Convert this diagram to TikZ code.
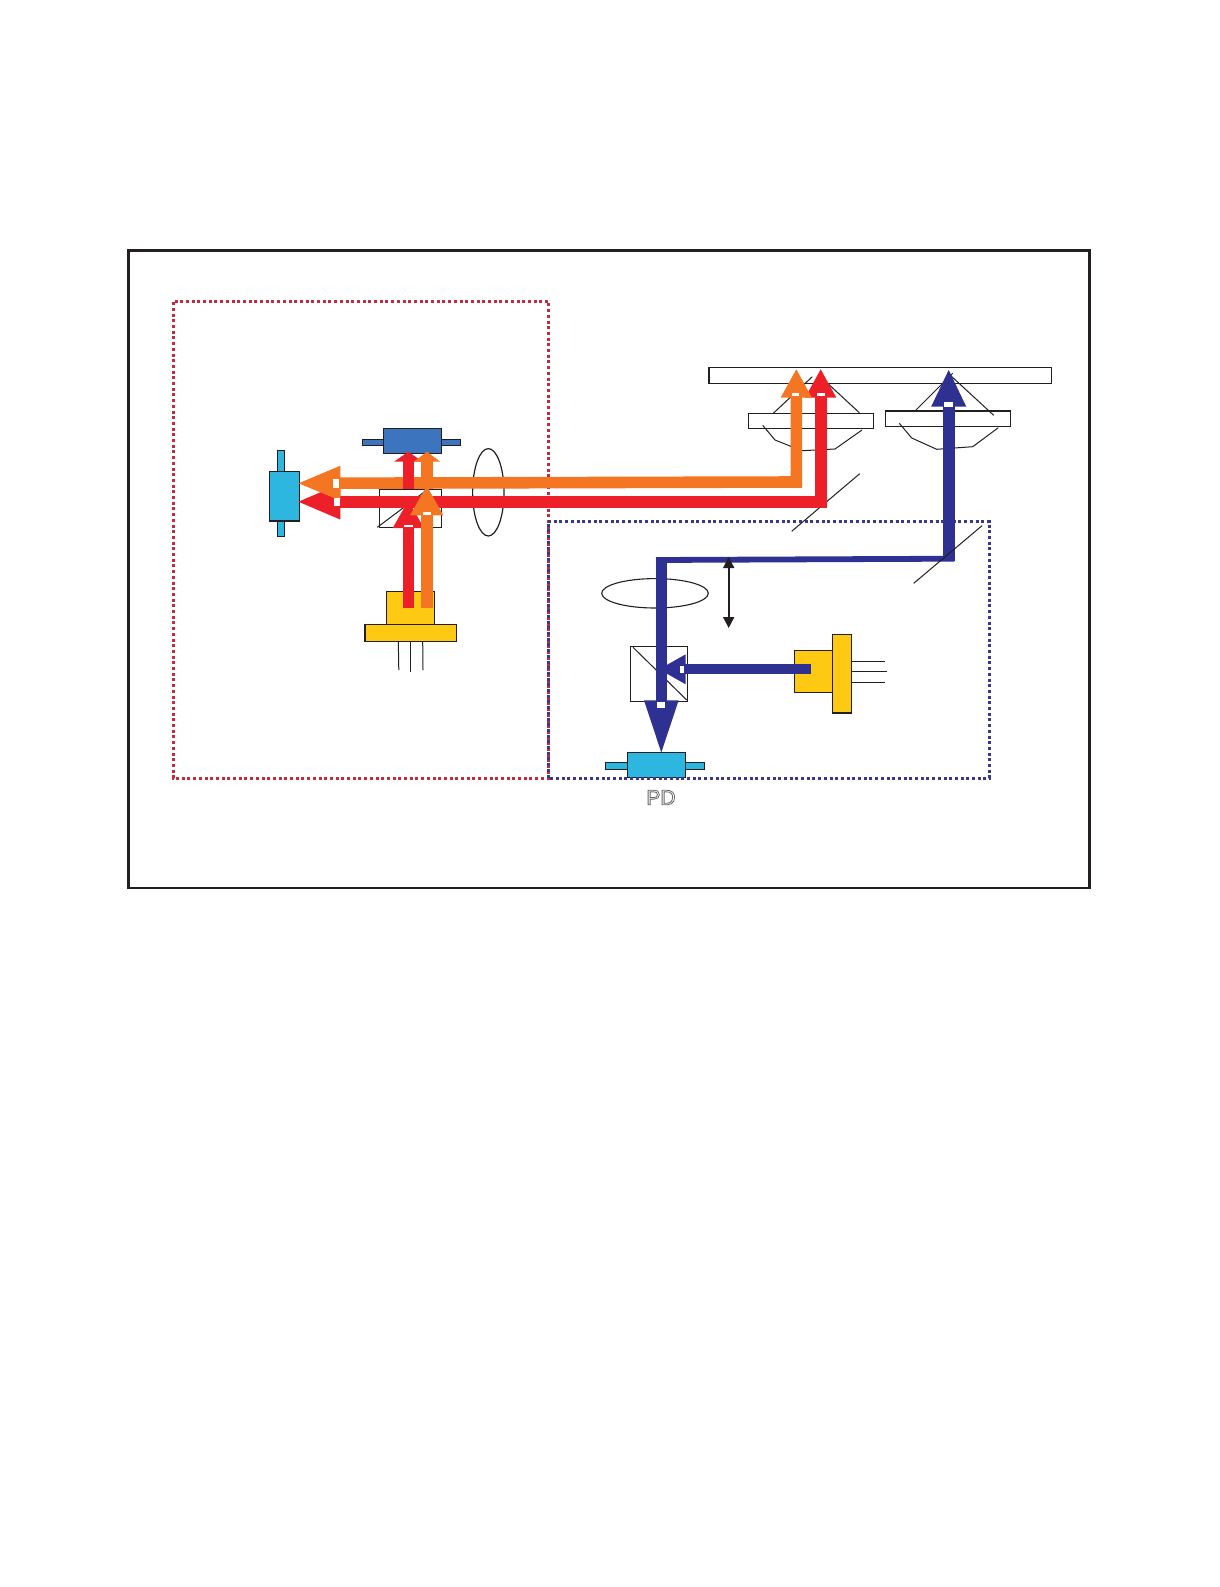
\documentclass[tikz,border=0pt]{standalone}
\usepackage{fontspec}
\setmainfont{Liberation Sans}
\usetikzlibrary{arrows.meta,shapes.geometric}
\definecolor{cred}{HTML}{ED2029}
\definecolor{cdotred}{HTML}{C8283E}
\definecolor{corange}{HTML}{F47623}
\definecolor{cblue}{HTML}{2E3192}
\definecolor{cdotblue}{HTML}{38388E}
\definecolor{cyel}{HTML}{FDC913}
\definecolor{ccyan}{HTML}{2DB6E0}
\definecolor{csteel}{HTML}{3C74BE}
\definecolor{cink}{HTML}{231F20}
\tikzset{
  part/.style={draw=cink,line width=1.2pt,inner sep=0pt,outer sep=0pt,anchor=north west},
  thin line/.style={draw=cink,line width=1pt},
  dotred/.style={draw=cdotred,line width=3pt,dash pattern=on 3pt off 2.7pt},
  dotblue/.style={draw=cdotblue,line width=3pt,dash pattern=on 3pt off 2.7pt},
  beam/.style={line width=11.6pt,line cap=butt,line join=miter},
  notch/.style={fill=white,draw=none,inner sep=0pt,outer sep=0pt,anchor=north west}
}
\newcommand{\partbox}[6]{%
  \pgfmathsetmacro{\myw}{#5-#3}\pgfmathsetmacro{\myh}{#6-#4}%
  \node[part,#2,minimum width=\myw pt,minimum height=\myh pt] (#1) at (#3,#4) {};}
\newcommand{\notchbox}[5]{%
  \pgfmathsetmacro{\myw}{#4-#2}\pgfmathsetmacro{\myh}{#5-#3}%
  \node[notch,minimum width=\myw pt,minimum height=\myh pt] (#1) at (#2,#3) {};}
\begin{document}
\begin{tikzpicture}[x=1pt,y=-1pt]
\useasboundingbox (0,0) rectangle (1219,1587);
\fill[white] (0,0) rectangle (1219,1587);
% frame
\draw[cink,line width=2.8pt] (128.5,250.5) rectangle (1089.5,888);
% red dotted group
\draw[dotred] (548,301) -- (173,301) -- (173,778) -- (548,778) -- cycle;
% target bar, lenses
\partbox{bar}{fill=white,line width=1.6pt}{708.7}{367.3}{1051.3}{383.3}
\partbox{plateL}{fill=white}{748.3}{413.3}{873.3}{428.3}
\partbox{plateR}{fill=white,line width=1.6pt}{885.3}{410.7}{1010.3}{426.3}
\draw[thin line] (762.7,425.3) -- (775,440) -- (801.7,450.7) -- (835,449) -- (862,430);
\draw[thin line] (899.3,423.3) -- (911.7,438) -- (936.7,449.3) -- (972.7,446.7) -- (998.3,427.7);
\draw[thin line] (773.3,413.3) -- (812.3,376.7);
\draw[thin line] (824,380) -- (859.3,412.7);
\draw[thin line] (915.3,410.7) -- (952.7,373.3);
\draw[thin line] (950,375) -- (993.7,415.3);
% left group optics
\partbox{cubeL}{fill=white,line width=1pt}{379.3}{489}{441.3}{527.3}
\draw[thin line] (377.3,527.3) -- (428.3,489);
\node[draw=cink,line width=1.2pt,ellipse,inner sep=0pt,minimum width=31.4pt,minimum height=87.4pt] (lensL) at (488.3,492.3) {};
\partbox{pinT}{fill=csteel}{362.3}{439.3}{460.7}{445.3}
\partbox{detT}{fill=csteel}{383.3}{428.3}{441.3}{453.3}
\partbox{pinL}{fill=ccyan}{277.7}{450.7}{284.7}{536.3}
\partbox{detL}{fill=ccyan}{269.7}{471.3}{299.3}{521}
\draw[thin line] (398.3,641.3) -- (398.8,670);
\draw[thin line] (410.3,641.3) -- (410.3,672);
\draw[thin line] (422.7,641.3) -- (423,670);
\partbox{lasA}{fill=cyel}{386.3}{591.3}{434.3}{624.3}
\partbox{lasB}{fill=cyel,line width=1.5pt}{365}{624.3}{456.3}{641.3}
% right group optics
\partbox{cubeR}{fill=white}{630.3}{646.7}{687.3}{701.3}
\draw[thin line] (633,647.3) -- (686.7,700);
\node[draw=cink,line width=1.1pt,ellipse,inner sep=0pt,minimum width=106.6pt,minimum height=29.4pt] (lensR) at (655,593.3) {};
\draw[thin line] (851.7,661.7) -- (885,661.7);
\draw[thin line] (851.7,671.7) -- (887,671.7);
\draw[thin line] (851.7,682.3) -- (885,682.3);
\partbox{lasC}{fill=cyel}{794.3}{650.7}{832.3}{692.3}
\partbox{lasD}{fill=cyel}{832.3}{634.7}{851.7}{713}
\partbox{pinP}{fill=ccyan}{605.7}{762.7}{704.3}{769.3}
\partbox{pd}{fill=ccyan}{627.3}{752.3}{685.3}{777.3}
% blue dotted group
\draw[dotblue] (548,521.5) -- (989.5,521.5) -- (989.5,778) -- (548,778) -- cycle;
% mirrors
\draw[thin line] (791.7,531.3) -- (859.7,473.7);
% beams: named ends
\coordinate (srcR) at (408.3,608);
\coordinate (srcO) at (426.7,608);
\coordinate (tipRu) at (408.3,500);
\coordinate (tipOu) at (426.7,485.3);
\coordinate (stubR) at (408.3,489);
\coordinate (stubO) at (427,483);
\coordinate (tipRt) at (408.3,451.7);
\coordinate (tipOt) at (427,451.7);
\coordinate (tipRl) at (296.3,501.7);
\coordinate (tipOl) at (296.3,483.3);
\coordinate (cornR) at (820.7,501.7);
\coordinate (cornO) at (796.3,482);
\coordinate (tipRb) at (820.7,368.7);
\coordinate (tipOb) at (796.3,368.7);
% red out and back
\draw[beam,cred,{Triangle[length=44pt,width=32pt]}-{Triangle[length=29pt,width=29pt]}] (tipRl) -- (cornR) -- (tipRb);
\draw[beam,corange,{Triangle[length=44pt,width=31pt]}-{Triangle[length=29pt,width=29pt]}] (tipOl) -- (cornO) -- (tipOb);
\draw[beam,cred,-{Triangle[length=10pt,width=28pt]}] (stubR) -- (tipRt);
\draw[beam,corange,-{Triangle[length=10pt,width=26pt]}] (stubO) -- (tipOt);
\draw[beam,cred,-{Triangle[length=28pt,width=29pt]}] (srcR) -- (tipRu);
\draw[beam,corange,-{Triangle[length=30pt,width=31pt]}] (srcO) -- (tipOu);
% blue path
\coordinate (blueA) at (948.7,560.7);
\coordinate (tipBt) at (948.7,368.7);
\coordinate (blueB) at (954.3,558.7);
\coordinate (blueC) at (656,560);
\coordinate (blueD) at (661.3,557.3);
\coordinate (tipBd) at (661.3,755.3);
\coordinate (blueS) at (811.3,669.3);
\coordinate (tipBl) at (658.7,669.3);
\draw[beam,cblue,-{Triangle[length=38pt,width=32pt]}] (blueA) -- (tipBt);
\draw[cblue,line width=5.8pt] (blueB) -- (blueC);
\draw[beam,line width=11pt,cblue,-{Triangle[length=55pt,width=31pt]}] (blueD) -- (tipBd);
\draw[beam,line width=10pt,cblue,-{Triangle[length=27pt,width=28pt]}] (blueS) -- (tipBl);
\draw[thin line] (913.7,583.3) -- (982,525.7);
% white gaps between shaft and head
\notchbox{n1}{403.7}{525}{412.7}{527}
\notchbox{n2}{422.7}{512}{430.7}{514.7}
\notchbox{n3}{333}{479.3}{338.7}{487.7}
\notchbox{n4}{334}{498.3}{340}{506}
\notchbox{n5}{791.7}{393.3}{799.3}{396}
\notchbox{n6}{816.7}{393.3}{825}{396}
\notchbox{n7}{944}{402.3}{953.3}{406.7}
\notchbox{n8}{657}{701.7}{665.3}{708.3}
\notchbox{n9}{680}{666}{684.3}{672.7}
% double arrow
\coordinate (dblA) at (728.7,557);
\coordinate (dblB) at (728.7,628);
\draw[cink,line width=1.8pt,{Triangle[length=11pt,width=11pt]}-{Triangle[length=11pt,width=11pt]}] (dblA) -- (dblB);
% label
\node[inner sep=0pt,font=\fontsize{21pt}{21pt}\selectfont] (pdlab) at (661,797.5)
  {\special{pdf:code q 1 Tr 0.8 w 0.4 G 1 g}PD\special{pdf:code Q}};
\end{tikzpicture}
\end{document}
